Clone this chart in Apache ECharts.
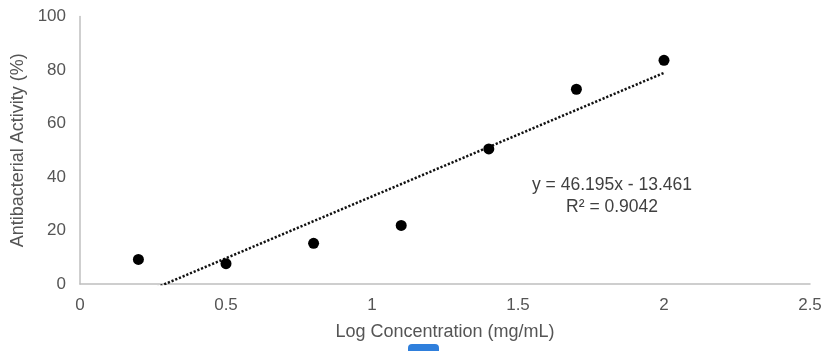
<!DOCTYPE html>
<html>
<head>
<meta charset="utf-8">
<script src="https://cdn.jsdelivr.net/npm/echarts@6/dist/echarts.min.js"></script>
<style>html,body{margin:0;padding:0;background:#fff;}#c{width:831px;height:351px;}</style>
</head>
<body>
<div id="c"></div>
<script>
var logConc = [0.2, 0.5, 0.8, 1.1, 1.4, 1.7, 2.0];
var activity = [9.2, 7.6, 15.2, 21.9, 50.5, 72.8, 83.6];
var trendSlope = [46.195];
var trendIntercept = [-13.461];
var xTicks = [0, 0.5, 1, 1.5, 2, 2.5];
var yTicks = [0, 20, 40, 60, 80, 100];
var eqText = ['y = 46.195x - 13.461', 'R\u00b2 = 0.9042'];

var xMin = logConc[0], xMax = logConc[logConc.length - 1];
var trendData = [
  [xMin, trendSlope[0] * xMin + trendIntercept[0]],
  [xMax, trendSlope[0] * xMax + trendIntercept[0]]
];
var points = logConc.map(function (x, i) { return [x, activity[i]]; });

var chart = echarts.init(document.getElementById('c'));
var font = '"Liberation Sans", Arial, sans-serif';
chart.setOption({
  animation: false,
  textStyle: { fontFamily: font },
  grid: { left: 80, right: 21, top: 16.5, bottom: 67 },
  xAxis: {
    type: 'value', min: xTicks[0], max: xTicks[xTicks.length - 1], interval: 0.5,
    name: 'Log Concentration (mg/mL)', nameLocation: 'middle', nameGap: 39,
    nameTextStyle: { color: '#555', fontSize: 18, fontFamily: font },
    axisLine: { show: true, lineStyle: { color: '#bfbfbf', width: 1.5 } },
    axisTick: { show: false },
    splitLine: { show: false },
    axisLabel: { color: '#555', fontSize: 17, margin: 13, fontFamily: font }
  },
  yAxis: {
    type: 'value', min: yTicks[0], max: yTicks[yTicks.length - 1], interval: 20,
    name: 'Antibacterial Activity (%)', nameLocation: 'middle', nameGap: 53, nameRotate: 90,
    nameTextStyle: { color: '#555', fontSize: 18, fontFamily: font },
    axisLine: { show: true, lineStyle: { color: '#bfbfbf', width: 1.5 } },
    axisTick: { show: false },
    splitLine: { show: false },
    axisLabel: { color: '#555', fontSize: 17, margin: 14, fontFamily: font }
  },
  series: [
    {
      type: 'line', data: trendData, clip: true, symbol: 'none',
      lineStyle: { color: '#111', width: 2.5, type: [2.2, 1.8] }, z: 2
    },
    {
      type: 'scatter', data: points, symbol: 'circle', symbolSize: 11,
      itemStyle: { color: '#000', opacity: 1 }, z: 3
    }
  ],
  graphic: [
    {
      type: 'text', left: 532, top: 174,
      style: { text: eqText.join('\n'), fill: '#404040', font: '17.5px ' + font, textAlign: 'center', lineHeight: 22 }
    },
    {
      type: 'rect', shape: { x: 408, y: 344, width: 31, height: 14, r: 4 },
      style: { fill: '#2f7fdc' }
    }
  ]
});
</script>
</body>
</html>
